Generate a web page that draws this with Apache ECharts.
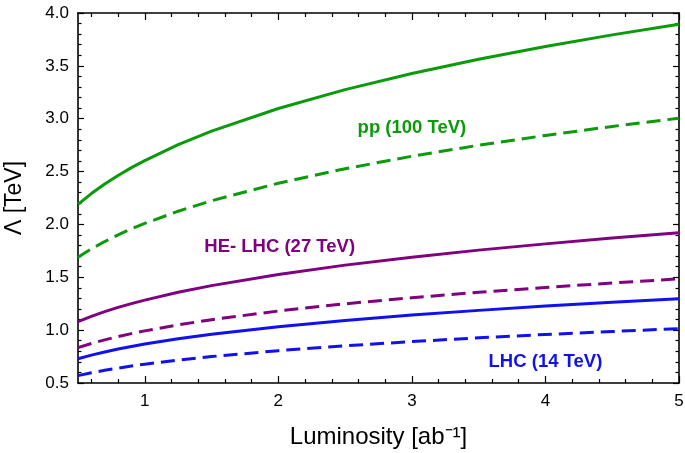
<!DOCTYPE html>
<html>
<head>
<meta charset="utf-8">
<script src="https://cdn.jsdelivr.net/npm/echarts@6/dist/echarts.min.js"></script>
<style>html,body{margin:0;padding:0;background:#fff}#c{width:685px;height:453px}</style>
</head>
<body>
<div id="c"></div>
<script>
// Luminosity values (ab^-1)
const lumi = [0.5, 0.6, 0.7, 0.8, 0.9, 1, 1.25, 1.5, 2, 2.5, 3, 3.5, 4, 4.5, 5];
// Λ [TeV]
const ppSolid   = [2.19, 2.292, 2.382, 2.463, 2.537, 2.604, 2.754, 2.882, 3.097, 3.275, 3.428, 3.562, 3.683, 3.793, 3.894];
const ppDashed  = [1.69, 1.769, 1.838, 1.901, 1.958, 2.010, 2.125, 2.224, 2.390, 2.527, 2.645, 2.749, 2.842, 2.927, 3.005];
const heSolid   = [1.08, 1.130, 1.175, 1.215, 1.251, 1.284, 1.358, 1.421, 1.527, 1.615, 1.690, 1.757, 1.816, 1.871, 1.921];
const heDashed  = [0.835, 0.874, 0.908, 0.939, 0.967, 0.993, 1.050, 1.099, 1.181, 1.249, 1.307, 1.358, 1.404, 1.446, 1.485];
const lhcSolid  = [0.73, 0.764, 0.794, 0.821, 0.846, 0.868, 0.918, 0.961, 1.032, 1.092, 1.143, 1.187, 1.228, 1.264, 1.298];
const lhcDashed = [0.57, 0.597, 0.620, 0.641, 0.660, 0.678, 0.717, 0.750, 0.806, 0.852, 0.892, 0.927, 0.959, 0.987, 1.014];
const xMajorTicks = [1, 2, 3, 4, 5];
const xMinorTicks = [0.6, 0.8, 1.2, 1.4, 1.6, 1.8, 2.2, 2.4, 2.6, 2.8, 3.2, 3.4, 3.6, 3.8, 4.2, 4.4, 4.6, 4.8];
const labels = [
  {text: 'pp (100 TeV)', x: 3.0, y: 2.91, color: '#0a9a0a'},
  {text: 'HE- LHC (27 TeV)', x: 2.01, y: 1.79, color: '#800080'},
  {text: 'LHC (14 TeV)', x: 4.0, y: 0.70, color: '#1010f0'}
];

const GREEN = '#0a9a0a', PURPLE = '#800080', BLUE = '#1010f0';
const FONT = 'Liberation Sans, Arial, sans-serif';
const zip = a => lumi.map((x, i) => [x, a[i]]);
function line(name, data, color, dashed) {
  return {
    name, type: 'line', data: zip(data), smooth: false, showSymbol: false,
    lineStyle: {color, width: 3, type: dashed ? [14, 7] : 'solid', join: 'round'},
    z: 3
  };
}
const axisLine = {show: true, lineStyle: {color: '#000', width: 1.6}};
const chart = echarts.init(document.getElementById('c'));
chart.setOption({
  animation: false,
  grid: {left: 78, right: 6, top: 13, bottom: 70, containLabel: false, outerBoundsMode: 'none'},
  xAxis: [
    {type: 'value', min: 0.5, max: 5, position: 'bottom',
     axisLine, splitLine: {show: false},
     axisTick: {show: true, inside: true, length: 7, customValues: xMajorTicks, lineStyle: {color: '#000', width: 1.2}},
     axisLabel: {customValues: xMajorTicks, color: '#000', fontSize: 17, fontFamily: FONT, margin: 10},
     name: 'Luminosity [ab⁻¹]', nameLocation: 'middle', nameGap: 42,
     nameTextStyle: {color: '#000', fontSize: 24, fontFamily: FONT}},
    {type: 'value', min: 0.5, max: 5, position: 'bottom', gridIndex: 0,
     axisLine: {show: false}, splitLine: {show: false},
     axisTick: {show: true, inside: true, length: 4, customValues: xMinorTicks, lineStyle: {color: '#000', width: 1.2}},
     axisLabel: {show: false}},
    {type: 'value', min: 0.5, max: 5, position: 'top',
     axisLine, splitLine: {show: false},
     axisTick: {show: true, inside: true, length: 7, customValues: xMajorTicks, lineStyle: {color: '#000', width: 1.2}},
     axisLabel: {show: false}},
    {type: 'value', min: 0.5, max: 5, position: 'top',
     axisLine: {show: false}, splitLine: {show: false},
     axisTick: {show: true, inside: true, length: 4, customValues: xMinorTicks, lineStyle: {color: '#000', width: 1.2}},
     axisLabel: {show: false}}
  ],
  yAxis: [
    {type: 'value', min: 0.5, max: 4, interval: 0.5, position: 'left',
     axisLine, splitLine: {show: false}, minorSplitLine: {show: false},
     axisTick: {show: true, inside: true, length: 6, lineStyle: {color: '#000', width: 1.2}},
     minorTick: {show: true, splitNumber: 5, length: 3.5, lineStyle: {color: '#000', width: 1.2}},
     axisLabel: {color: '#000', fontSize: 17, fontFamily: FONT, margin: 9, formatter: v => v.toFixed(1)},
     name: 'Λ [TeV]', nameLocation: 'middle', nameGap: 52, nameRotate: 90,
     nameTextStyle: {color: '#000', fontSize: 23, fontFamily: FONT}},
    {type: 'value', min: 0.5, max: 4, interval: 0.5, position: 'right',
     axisLine, splitLine: {show: false},
     axisTick: {show: true, inside: true, length: 6, lineStyle: {color: '#000', width: 1.2}},
     minorTick: {show: true, splitNumber: 5, length: 3.5, lineStyle: {color: '#000', width: 1.2}},
     axisLabel: {show: false}}
  ],
  series: [
    line('pp solid', ppSolid, GREEN, false),
    line('pp dashed', ppDashed, GREEN, true),
    line('HE solid', heSolid, PURPLE, false),
    line('HE dashed', heDashed, PURPLE, true),
    line('LHC solid', lhcSolid, BLUE, false),
    line('LHC dashed', lhcDashed, BLUE, true)
  ]
});
chart.setOption({
  graphic: labels.map(l => {
    const p = chart.convertToPixel({xAxisIndex: 0, yAxisIndex: 0}, [l.x, l.y]);
    return {type: 'text', x: p[0], y: p[1], z: 10,
      style: {text: l.text, fill: l.color, font: 'bold 18.5px ' + FONT, textAlign: 'center', textVerticalAlign: 'middle'}};
  })
});
</script>
</body>
</html>
